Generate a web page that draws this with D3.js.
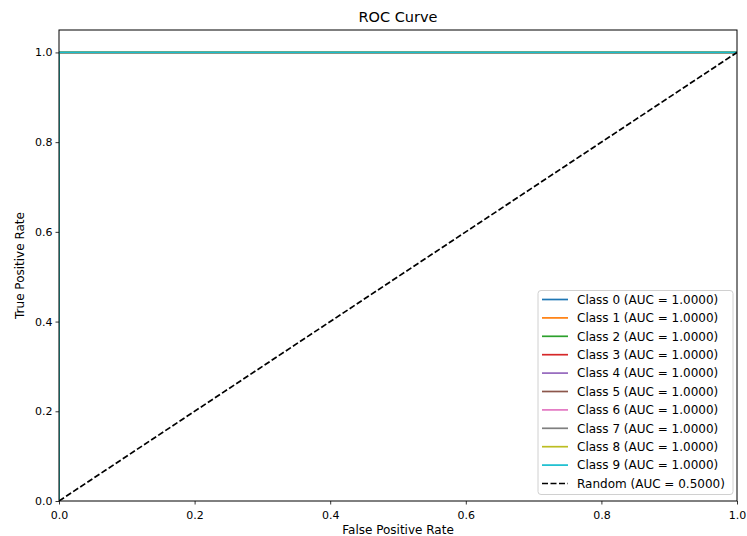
<!DOCTYPE html>
<html>
<head>
<meta charset="utf-8">
<script src="https://cdn.jsdelivr.net/npm/d3@7"></script>
<style>
  body { margin: 0; background: #fff; }
  text { font-family: "DejaVu Sans", sans-serif; }
</style>
</head>
<body>
<div id="chart"></div>
<script>
// ROC data
const classNames = ['Class 0', 'Class 1', 'Class 2', 'Class 3', 'Class 4',
                    'Class 5', 'Class 6', 'Class 7', 'Class 8', 'Class 9'];
const classAuc = [1.0, 1.0, 1.0, 1.0, 1.0, 1.0, 1.0, 1.0, 1.0, 1.0];
const rocFpr = [0, 0, 1];
const rocTpr = [0, 1, 1];
const randomFpr = [0, 1];
const randomTpr = [0, 1];
const randomAuc = 0.5;
const xTicks = [0, 0.2, 0.4, 0.6, 0.8, 1.0];
const yTicks = [0, 0.2, 0.4, 0.6, 0.8, 1.0];

const width = 747, height = 536;
const margin = { top: 30, right: 10, bottom: 35, left: 59 };

const svg = d3.select('#chart').append('svg')
    .attr('width', width)
    .attr('height', height);

const x = d3.scaleLinear().domain([0, 1]).range([margin.left, width - margin.right]);
const y = d3.scaleLinear().domain([0, 1.05]).range([height - margin.bottom, margin.top]);

const colors = d3.schemeCategory10;

// Clip the curves to the axes area, like matplotlib does
svg.append('clipPath').attr('id', 'plot-clip')
    .append('rect')
    .attr('x', margin.left)
    .attr('y', margin.top)
    .attr('width', width - margin.left - margin.right)
    .attr('height', height - margin.top - margin.bottom);

// Axes
const xAxis = svg.append('g')
    .attr('transform', `translate(0,${height - margin.bottom})`)
    .call(d3.axisBottom(x).tickValues(xTicks).tickFormat(d3.format('.1f')).tickSize(3.5).tickSizeOuter(0));
const yAxis = svg.append('g')
    .attr('transform', `translate(${margin.left},0)`)
    .call(d3.axisLeft(y).tickValues(yTicks).tickFormat(d3.format('.1f')).tickSize(3.5).tickSizeOuter(0));

[xAxis, yAxis].forEach(a => {
    a.select('.domain').remove();
    a.selectAll('text').attr('font-size', 11).attr('fill', '#000')
        .style('font-family', '"DejaVu Sans", sans-serif');
    a.selectAll('line').attr('stroke', '#000').attr('stroke-width', 0.8);
});
xAxis.selectAll('text').attr('dy', '1.0em');
yAxis.selectAll('text').attr('x', -6.5);

// Lines
const line = d3.line().x(d => x(d[0])).y(d => y(d[1]));
const plot = svg.append('g').attr('clip-path', 'url(#plot-clip)');

classNames.forEach((name, i) => {
    plot.append('path')
        .datum(rocFpr.map((f, j) => [f, rocTpr[j]]))
        .attr('d', line)
        .attr('fill', 'none')
        .attr('stroke', colors[i])
        .attr('stroke-width', 1.7);
});

plot.append('path')
    .datum(randomFpr.map((f, j) => [f, randomTpr[j]]))
    .attr('d', line)
    .attr('fill', 'none')
    .attr('stroke', '#000')
    .attr('stroke-width', 1.7)
    .attr('stroke-dasharray', '6,2.5');

// Frame
svg.append('rect')
    .attr('x', margin.left)
    .attr('y', margin.top)
    .attr('width', width - margin.left - margin.right)
    .attr('height', height - margin.top - margin.bottom)
    .attr('fill', 'none')
    .attr('stroke', '#000')
    .attr('stroke-width', 1);

// Title and labels
svg.append('text')
    .attr('x', (x(0) + x(1)) / 2)
    .attr('y', 22)
    .attr('text-anchor', 'middle')
    .attr('font-size', 14.5)
    .text('ROC Curve');

svg.append('text')
    .attr('x', (x(0) + x(1)) / 2)
    .attr('y', 534)
    .attr('text-anchor', 'middle')
    .attr('font-size', 12)
    .text('False Positive Rate');

svg.append('text')
    .attr('transform', `translate(24,${(y(0) + y(1.05)) / 2}) rotate(-90)`)
    .attr('text-anchor', 'middle')
    .attr('font-size', 12)
    .text('True Positive Rate');

// Legend
const fmt = d3.format('.4f');
const legendItems = classNames.map((name, i) => ({
    label: `${name} (AUC = ${fmt(classAuc[i])})`, color: colors[i], dash: null
}));
legendItems.push({ label: `Random (AUC = ${fmt(randomAuc)})`, color: '#000', dash: '6,2.5' });

const legend = svg.append('g').attr('transform', 'translate(538,290.5)');
legend.append('rect')
    .attr('width', 195)
    .attr('height', 204)
    .attr('rx', 3)
    .attr('fill', '#fff')
    .attr('fill-opacity', 0.8)
    .attr('stroke', '#d0d0d0');

const rows = legend.selectAll('.legend-row')
    .data(legendItems)
    .enter()
    .append('g')
    .attr('class', 'legend-row')
    .attr('transform', (d, i) => `translate(0,${9 + i * 18.4})`);

rows.append('line')
    .attr('x1', 4).attr('x2', 30)
    .attr('stroke', d => d.color)
    .attr('stroke-width', 1.7)
    .attr('stroke-dasharray', d => d.dash);

rows.append('text')
    .attr('x', 39)
    .attr('dy', '0.35em')
    .attr('font-size', 12)
    .text(d => d.label);
</script>
</body>
</html>
